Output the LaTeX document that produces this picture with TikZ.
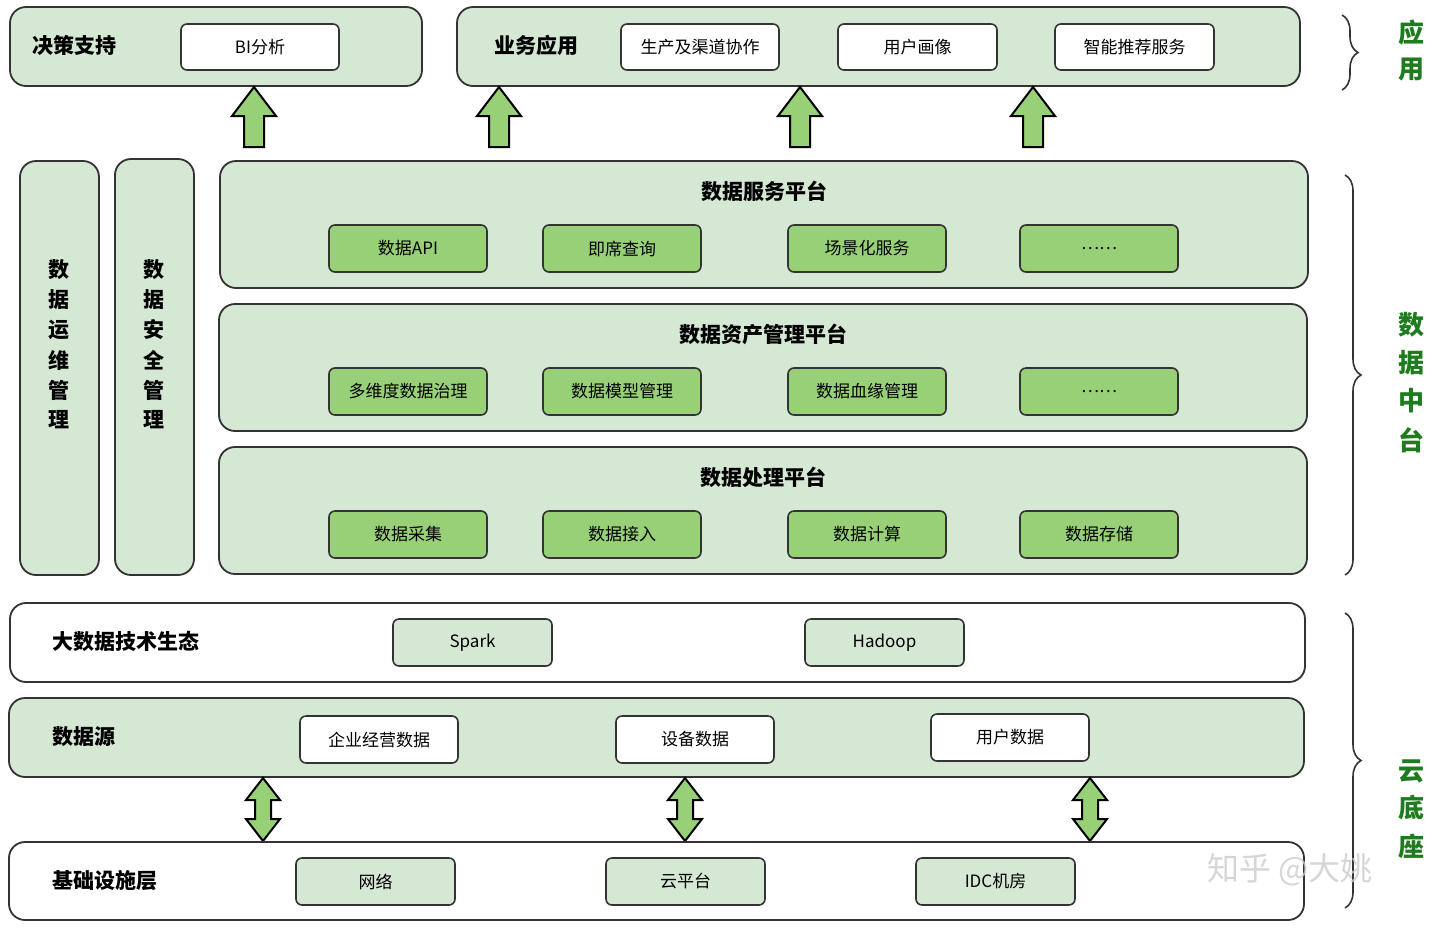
\documentclass[tikz,border=0pt]{standalone}
\usepackage{fontspec}
\setmainfont{Noto Sans CJK SC}
\usetikzlibrary{decorations.pathreplacing}
\definecolor{lg}{HTML}{D5E8D4}
\definecolor{mg}{HTML}{97D077}
\definecolor{bd}{HTML}{333333}
\definecolor{dg}{HTML}{1E7B1E}
\begin{document}
\begin{tikzpicture}[x=0.5pt,y=-0.5pt,
 panel/.style={draw=bd,line width=0.9pt,rounded corners=8pt},
 ib/.style={draw=bd,line width=0.8pt,rounded corners=3pt},
 t/.style={font=\fontsize{10.5}{12}\selectfont\bfseries,text=black},
 s/.style={font=\fontsize{8.5}{10}\selectfont},
 side/.style={font=\fontsize{13}{16}\selectfont\bfseries,text=dg},
 arr/.style={fill=mg,draw=black,line width=1pt},
 br/.style={decorate,decoration={brace,amplitude=8pt},line width=0.8pt,draw=bd}]
\useasboundingbox (0,0) rectangle (1440,928);
\newcommand\bx[6]{\draw[#1] (#2,#3) rectangle (#4,#5); \node[s] at ({(#2+#4)/2},{(#3+#5)/2}) {#6};}
% top
\draw[panel,fill=lg] (10,7) rectangle (422,86);
\node[t,anchor=west] at (25,45) {决策支持};
\bx{ib,fill=white}{181}{24}{339}{70}{BI分析}
\draw[panel,fill=lg] (457,7) rectangle (1300,86);
\node[t,anchor=west] at (487,45) {业务应用};
\bx{ib,fill=white}{621}{24}{779}{70}{生产及渠道协作}
\bx{ib,fill=white}{838}{24}{997}{70}{用户画像}
\bx{ib,fill=white}{1055}{24}{1214}{70}{智能推荐服务}
\foreach \x in {254,499,800,1033}{
 \draw[arr] (\x-10,147) -- (\x-10,116) -- (\x-22,116) -- (\x,87) -- (\x+22,116) -- (\x+10,116) -- (\x+10,147) -- cycle;}
% left verticals
\draw[panel,fill=lg] (20,161) rectangle (99,575);
\draw[panel,fill=lg] (115,159) rectangle (194,575);
\foreach \c [count=\i] in {数,据,运,维,管,理}{\node[t] at (59,240+30*\i) {\c};}
\foreach \c [count=\i] in {数,据,安,全,管,理}{\node[t] at (154,240+30*\i) {\c};}
% platforms
\draw[panel,fill=lg] (220,161) rectangle (1308,288);
\node[t] at (764,191) {数据服务平台};
\draw[panel,fill=lg] (219,304) rectangle (1307,431);
\node[t] at (763,334) {数据资产管理平台};
\draw[panel,fill=lg] (219,447) rectangle (1307,574);
\node[t] at (763,477) {数据处理平台};
\foreach \y/\a/\b/\c/\d in {225/数据API/即席查询/场景化服务/……,368/多维度数据治理/数据模型管理/数据血缘管理/……,511/数据采集/数据接入/数据计算/数据存储}{
 \bx{ib,fill=mg}{329}{\y}{487}{\y+47}{\a}
 \bx{ib,fill=mg}{543}{\y}{701}{\y+47}{\b}
 \bx{ib,fill=mg}{788}{\y}{946}{\y+47}{\c}
 \bx{ib,fill=mg}{1020}{\y}{1178}{\y+47}{\d}}
% base
\draw[panel,fill=white] (10,603) rectangle (1305,682);
\node[t,anchor=west] at (45,641) {大数据技术生态};
\bx{ib,fill=lg}{393}{619}{552}{666}{Spark}
\bx{ib,fill=lg}{805}{619}{964}{666}{Hadoop}
\draw[panel,fill=lg] (9,698) rectangle (1304,777);
\node[t,anchor=west] at (45,737) {数据源};
\bx{ib,fill=white}{300}{716}{458}{763}{企业经营数据}
\bx{ib,fill=white}{616}{716}{774}{763}{设备数据}
\bx{ib,fill=white}{931}{714}{1089}{761}{用户数据}
\foreach \x in {263,685,1090}{
 \draw[arr] (\x,778) -- (\x+17,800) -- (\x+8,800) -- (\x+8,819) -- (\x+17,819) -- (\x,841) -- (\x-17,819) -- (\x-8,819) -- (\x-8,800) -- (\x-17,800) -- cycle;}
\draw[panel,fill=white] (9,842) rectangle (1304,920);
\node[t,anchor=west] at (45,881) {基础设施层};
\bx{ib,fill=lg}{296}{858}{455}{905}{网络}
\bx{ib,fill=lg}{606}{858}{765}{905}{云平台}
\bx{ib,fill=lg}{916}{858}{1075}{905}{IDC机房}
% braces
\draw[br] (1342,15) -- (1342,90);
\draw[br] (1345,175) -- (1345,575);
\draw[br] (1345,613) -- (1345,908);
\node[side] at (1411,33) {应};
\node[side] at (1411,70) {用};
\foreach \c/\y in {数/325,据/363,中/401,台/440}{\node[side] at (1411,\y) {\c};}
\foreach \c/\y in {云/771,底/808,座/846}{\node[side] at (1411,\y) {\c};}
\node[font=\fontsize{16}{18}\selectfont,text=gray!40,opacity=0.8] at (1290,870) {知乎 @大姚};
\end{tikzpicture}
\end{document}
